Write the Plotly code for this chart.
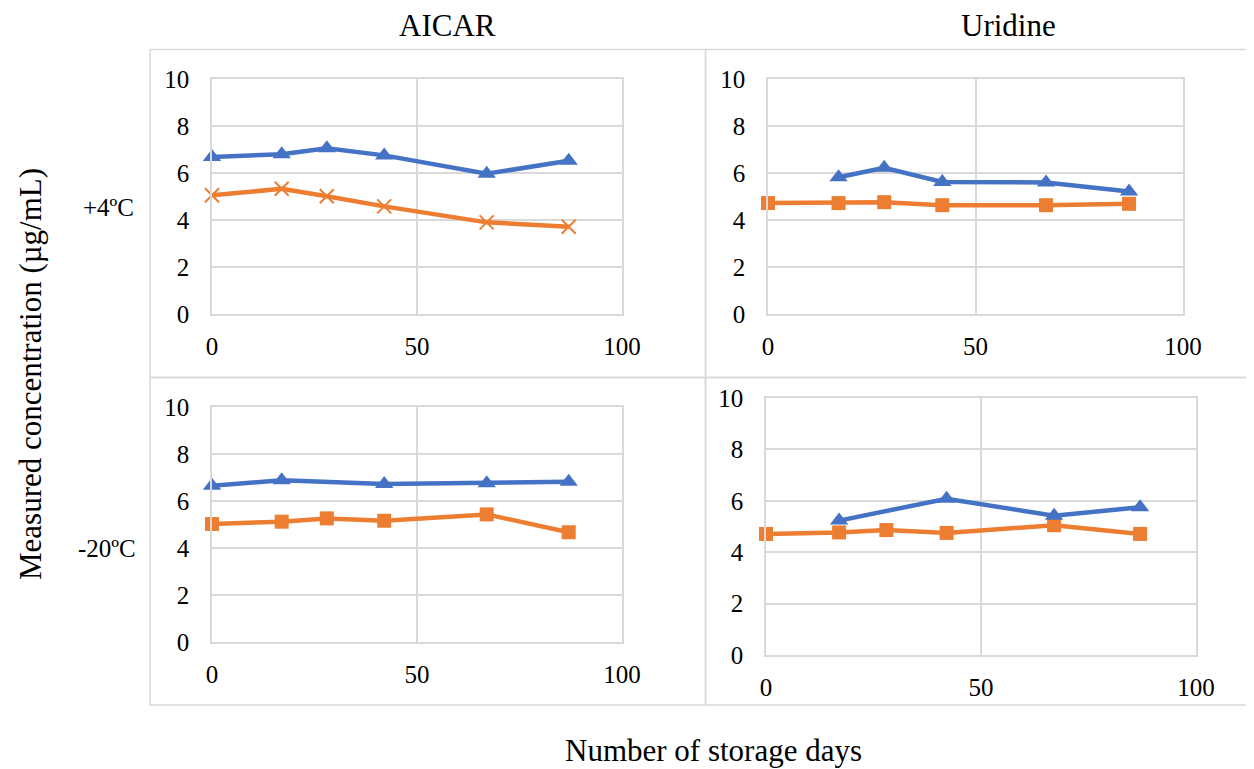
import plotly.graph_objects as go

# ---------------- data ----------------
col_titles = ["AICAR", "Uridine"]
row_titles = ["+4ºC", "-20ºC"]
x_title = "Number of storage days"
y_title = "Measured concentration (µg/mL)"

# AICAR, +4ºC
aicar_4_blue_days = [0, 17, 28, 42, 67, 87]
aicar_4_blue_vals = [6.68, 6.80, 7.05, 6.75, 5.97, 6.52]
aicar_4_orange_days = [0, 17, 28, 42, 67, 87]
aicar_4_orange_vals = [5.05, 5.33, 5.01, 4.58, 3.90, 3.71]

# Uridine, +4ºC
uri_4_blue_days = [17, 28, 42, 67, 87]
uri_4_blue_vals = [5.82, 6.22, 5.62, 5.60, 5.21]
uri_4_orange_days = [0, 17, 28, 42, 67, 87]
uri_4_orange_vals = [4.72, 4.72, 4.76, 4.63, 4.63, 4.69]

# AICAR, -20ºC
aicar_20_blue_days = [0, 17, 42, 67, 87]
aicar_20_blue_vals = [6.65, 6.88, 6.72, 6.76, 6.82]
aicar_20_orange_days = [0, 17, 28, 42, 67, 87]
aicar_20_orange_vals = [5.02, 5.12, 5.26, 5.16, 5.43, 4.67]

# Uridine, -20ºC
uri_20_blue_days = [17, 42, 67, 87]
uri_20_blue_vals = [5.23, 6.08, 5.42, 5.75]
uri_20_orange_days = [0, 17, 28, 42, 67, 87]
uri_20_orange_vals = [4.71, 4.77, 4.86, 4.75, 5.05, 4.71]

x_ticks = [0, 50, 100]
y_ticks = [0, 2, 4, 6, 8, 10]

# ---------------- style ----------------
OFF = 8  # page body margin
W, H = 1254 - OFF, 769 - OFF
BLUE = "#4472C4"
ORANGE = "#ED7D31"
GRID = "#D9D9D9"
FONT = "Liberation Serif"


def px_x(p):
    return (p - OFF) / W


def px_y(p):
    return 1 - (p - OFF) / H


# plot areas (screen pixel boxes: left, right, top, bottom)
areas = {
    1: (212, 622, 79, 314),
    2: (768, 1183, 79, 314),
    3: (212, 622, 407, 642),
    4: (766, 1196, 398, 655),
}

panels = [
    (1, aicar_4_blue_days, aicar_4_blue_vals, aicar_4_orange_days, aicar_4_orange_vals, "x-thin"),
    (2, uri_4_blue_days, uri_4_blue_vals, uri_4_orange_days, uri_4_orange_vals, "square"),
    (3, aicar_20_blue_days, aicar_20_blue_vals, aicar_20_orange_days, aicar_20_orange_vals, "square"),
    (4, uri_20_blue_days, uri_20_blue_vals, uri_20_orange_days, uri_20_orange_vals, "square"),
]

fig = go.Figure()
layout = {}
for idx, bd, bv, od, ov, osym in panels:
    sfx = "" if idx == 1 else str(idx)
    xa = "x" + sfx
    ya = "y" + sfx
    l, r, t, b = areas[idx]
    if osym == "x-thin":
        omarker = dict(symbol="x-thin", size=14, color=ORANGE,
                       line=dict(color=ORANGE, width=2))
    else:
        omarker = dict(symbol="square", size=14, color=ORANGE,
                       line=dict(width=0))
    fig.add_trace(go.Scatter(
        x=od, y=ov, mode="lines+markers", xaxis=xa, yaxis=ya,
        line=dict(color=ORANGE, width=4.5), marker=omarker,
        showlegend=False, name="Series 2", cliponaxis=False))
    fig.add_trace(go.Scatter(
        x=bd, y=bv, mode="lines+markers", xaxis=xa, yaxis=ya,
        line=dict(color=BLUE, width=4.5),
        marker=dict(symbol="triangle-up", size=16, color=BLUE, line=dict(width=0)),
        showlegend=False, name="Series 1", cliponaxis=False))
    common = dict(
        showgrid=True, gridcolor=GRID, gridwidth=1.5,
        showline=True, linecolor=GRID, linewidth=1.5, mirror=True,
        ticks="outside", tickcolor="rgba(0,0,0,0)",
        zeroline=False, automargin=False,
        tickfont=dict(family=FONT, size=25, color="black"),
        fixedrange=True)
    layout["xaxis" + sfx] = dict(
        domain=[px_x(l), px_x(r)], anchor=ya, range=[0, 100],
        tickvals=x_ticks, ticklen=9, **common)
    layout["yaxis" + sfx] = dict(
        domain=[px_y(b), px_y(t)], anchor=xa, range=[0, 10],
        tickvals=y_ticks, ticklen=16, **common)

# panel frames
shapes = []
frames = [
    (150, 705.5, 49.5, 377.5),
    (705.5, 1253, 49.5, 377.5),
    (150, 705.5, 377.5, 705),
    (705.5, 1253, 377.5, 705),
]
for l, r, t, b in frames:
    shapes.append(dict(type="rect", xref="paper", yref="paper",
                       x0=px_x(l), x1=px_x(r), y0=px_y(b), y1=px_y(t),
                       line=dict(color=GRID, width=1.5), layer="below"))

annotations = [
    dict(text=col_titles[0], x=px_x(447), y=px_y(25), font=dict(size=31)),
    dict(text=col_titles[1], x=px_x(1008), y=px_y(25), font=dict(size=31)),
    dict(text=row_titles[0], x=px_x(109), y=px_y(208), font=dict(size=25)),
    dict(text=row_titles[1], x=px_x(107), y=px_y(548), font=dict(size=25)),
    dict(text=y_title, x=px_x(30), y=px_y(374), textangle=-90, font=dict(size=31)),
    dict(text=x_title, x=px_x(713), y=px_y(750), font=dict(size=31)),
]
for a in annotations:
    a.update(xref="paper", yref="paper", showarrow=False,
             xanchor="center", yanchor="middle")
    a["font"].update(family=FONT, color="black")

fig.update_layout(
    template="none",
    width=W, height=H, margin=dict(l=0, r=0, t=0, b=0, pad=0),
    autosize=False,
    paper_bgcolor="white", plot_bgcolor="white",
    shapes=shapes, annotations=annotations,
    font=dict(family=FONT, color="black"),
    **layout)

fig.write_html("out.html")
